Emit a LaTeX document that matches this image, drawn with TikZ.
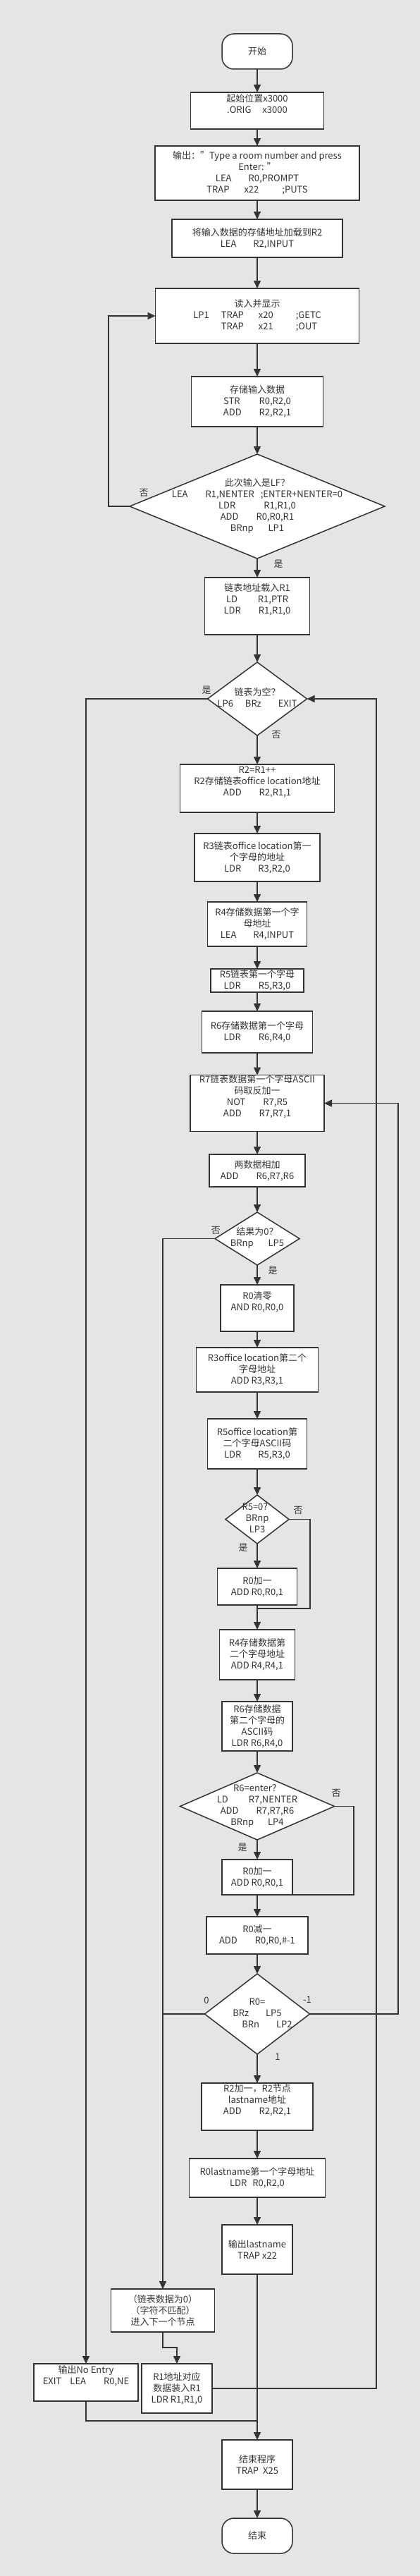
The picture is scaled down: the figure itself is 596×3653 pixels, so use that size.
\documentclass[tikz,border=0pt]{standalone}
\usepackage{fontspec}
\setmainfont{Noto Sans CJK SC}
\usetikzlibrary{shapes.geometric,arrows.meta}
\definecolor{bg}{HTML}{E5E5E5}
\definecolor{ln}{HTML}{333333}
\newcommand\gp[1]{\hspace{#1pt}}
\newcommand\dtext[1]{\smash{\makebox[0pt]{\raisebox{-3.2pt}{\begin{tabular}{@{}c@{}}#1\end{tabular}}}}}
\tikzset{
  box/.style={draw=ln, fill=white, line width=1.5pt, inner sep=0pt, outer sep=0pt,
    align=center, font=\fontsize{13}{16}\selectfont, text=ln},
  term/.style={box, rounded corners=17pt},
  dia/.style={box, shape=diamond},
  arr/.style={draw=ln, line width=1.5pt, -{Triangle[length=11pt,width=10pt]}},
  lnk/.style={draw=ln, line width=1.5pt},
  lab/.style={font=\fontsize{13}{16}\selectfont, text=ln, inner sep=0pt}
}
\begin{document}
\begin{tikzpicture}[x=1pt,y=-1pt]
\useasboundingbox (0,0) rectangle (596,3653);
\fill[bg] (0,0) rectangle (596,3653);

\node[term, minimum width=100pt, minimum height=50pt] (s) at (365,73) {开始};
\node[box, minimum width=189pt, minimum height=52pt] (b1) at (365,157) {起始位置x3000\\.ORIG\gp{16}x3000\\\strut};
\node[box, minimum width=290pt, minimum height=77pt] (b2) at (365,245.5) {输出："Type a room number and press\\Enter: "\\LEA\gp{24}R0,PROMPT\\TRAP\gp{21}x22\gp{33};PUTS};
\node[box, minimum width=242pt, minimum height=54pt] (b3) at (365,338) {将输入数据的存储地址加载到R2\\LEA\gp{24}R2,INPUT};
\node[box, minimum width=289pt, minimum height=78pt] (b4) at (365,448) {读入并显示\\\begin{tabular}[t]{@{}l@{}}LP1\gp{17}TRAP\gp{21}x20\gp{32};GETC\\\phantom{LP1}\gp{17}TRAP\gp{21}x21\gp{32};OUT\end{tabular}};
\node[box, minimum width=187pt, minimum height=71pt] (b5) at (365,569.5) {存储输入数据\\STR\gp{27}R0,R2,0\\ADD\gp{25}R2,R2,1};
\node[dia, minimum width=362pt, minimum height=148pt] (d1) at (365,718) {\dtext{此次输入是LF？\\LEA\gp{25}R1,NENTER\gp{9};ENTER+NENTER=0\\LDR\gp{40}R1,R1,0\\ADD\gp{25}R0,R0,R1\\BRnp\gp{21}LP1}};
\node[box, minimum width=149pt, minimum height=81pt] (b6) at (365,859.5) {链表地址载入R1\\LD\gp{29}R1,PTR\\LDR\gp{25}R1,R1,0\\\strut};
\node[dia, minimum width=141pt, minimum height=104pt] (d2) at (365,991) {\dtext{链表为空？\\LP6\gp{17}BRz\gp{24}EXIT}};
\node[box, minimum width=219pt, minimum height=68pt] (b7) at (365,1118) {R2=R1++\\R2存储链表office location地址\\ADD\gp{25}R2,R1,1\\\strut};
\node[box, minimum width=178pt, minimum height=68pt] (b8) at (365,1216) {R3链表office location第一\\个字母的地址\\LDR\gp{24}R3,R2,0};
\node[box, minimum width=141pt, minimum height=63pt] (b9) at (365,1310.5) {R4存储数据第一个字\\母地址\\LEA\gp{24}R4,INPUT};
\node[box, minimum width=132pt, minimum height=33pt] (b10) at (365,1390.5) {R5链表第一个字母\\LDR\gp{25}R5,R3,0};
\node[box, minimum width=157pt, minimum height=59pt] (b11) at (365,1463.5) {R6存储数据第一个字母\\LDR\gp{25}R6,R4,0};
\node[box, minimum width=190pt, minimum height=77pt] (b12) at (365,1564.5) {R7链表数据第一个字母ASCII\\码取反加一\\NOT\gp{25}R7,R5\\ADD\gp{25}R7,R7,1\\\strut};
\node[box, minimum width=136pt, minimum height=46pt] (b13) at (365,1660) {两数据相加\\ADD\gp{25}R6,R7,R6};
\node[dia, minimum width=120pt, minimum height=75pt] (d3) at (365,1756.5) {\dtext{结果为0？\\BRnp\gp{21}LP5}};
\node[box, minimum width=104pt, minimum height=66pt] (b14) at (365,1855) {R0清零\\AND R0,R0,0\\\strut};
\node[box, minimum width=173pt, minimum height=63pt] (b15) at (365,1942.5) {R3office location第二个\\字母地址\\ADD R3,R3,1};
\node[box, minimum width=141pt, minimum height=71pt] (b16) at (365,2047.5) {R5office location第\\二个字母ASCII码\\LDR\gp{24}R5,R3,0};
\node[dia, minimum width=90pt, minimum height=69pt] (d4) at (365,2154.5) {\dtext{R5=0？\\BRnp\\LP3}};
\node[box, minimum width=113pt, minimum height=52pt] (b17) at (365,2250) {R0加一\\ADD R0,R0,1};
\node[box, minimum width=107pt, minimum height=71pt] (b18) at (365,2346.5) {R4存储数据第\\二个字母地址\\ADD R4,R4,1};
\node[box, minimum width=100pt, minimum height=70pt] (b19) at (365,2448) {R6存储数据\\第二个字母的\\ASCII码\\LDR R6,R4,0};
\node[dia, minimum width=219pt, minimum height=95pt] (d5) at (365,2561.5) {\dtext{R6=enter？\\LD\gp{29}R7,NENTER\\ADD\gp{25}R7,R7,R6\\BRnp\gp{20}LP4}};
\node[box, minimum width=100pt, minimum height=50pt] (b20) at (365,2662) {R0加一\\ADD R0,R0,1};
\node[box, minimum width=144pt, minimum height=53pt] (b21) at (365,2744.5) {R0减一\\ADD\gp{25}R0,R0,\#-1};
\node[dia, minimum width=149pt, minimum height=114pt] (d6) at (365,2856) {\dtext{R0=\\BRz\gp{24}LP5\\\hspace*{28pt}BRn\gp{24}LP2}};
\node[box, minimum width=158pt, minimum height=67pt] (b22) at (365,2987.5) {R2加一，R2节点\\lastname地址\\ADD\gp{25}R2,R2,1\\\strut};
\node[box, minimum width=193pt, minimum height=55pt] (b23) at (365,3088.5) {R0lastname第一个字母地址\\LDR\gp{8}R0,R2,0};
\node[box, minimum width=100pt, minimum height=70pt] (b24) at (365,3190) {输出lastname\\TRAP x22};
\node[box, minimum width=147pt, minimum height=61pt] (b25) at (231,3276.5) {（链表数据为0）\\（字符不匹配）\\进入下一个节点};
\node[box, minimum width=148pt, minimum height=53pt] (ne) at (122,3378.5) {输出No Entry\\EXIT\gp{12}LEA\gp{25}R0,NE\\\strut};
\node[box, minimum width=100pt, minimum height=70pt] (b26) at (251,3387) {R1地址对应\\数据装入R1\\LDR R1,R1,0};
\node[box, minimum width=100pt, minimum height=70pt] (b27) at (365,3495) {结束程序\\TRAP\gp{6}X25};
\node[term, minimum width=100pt, minimum height=50pt] (e) at (365,3596) {结束};

% straight arrows down the main column
\draw[arr] (s.south) -- (b1.north);
\draw[arr] (b1.south) -- (b2.north);
\draw[arr] (b2.south) -- (b3.north);
\draw[arr] (b3.south) -- (b4.north);
\draw[arr] (b4.south) -- (b5.north);
\draw[arr] (b5.south) -- (d1.north);
\draw[arr] (d1.south) -- (b6.north);
\draw[arr] (b6.south) -- (d2.north);
\draw[arr] (d2.south) -- (b7.north);
\draw[arr] (b7.south) -- (b8.north);
\draw[arr] (b8.south) -- (b9.north);
\draw[arr] (b9.south) -- (b10.north);
\draw[arr] (b10.south) -- (b11.north);
\draw[arr] (b11.south) -- (b12.north);
\draw[arr] (b12.south) -- (b13.north);
\draw[arr] (b13.south) -- (d3.north);
\draw[arr] (d3.south) -- (b14.north);
\draw[arr] (b14.south) -- (b15.north);
\draw[arr] (b15.south) -- (b16.north);
\draw[arr] (b16.south) -- (d4.north);
\draw[arr] (d4.south) -- (b17.north);
\draw[arr] (b17.south) -- (b18.north);
\draw[arr] (b18.south) -- (b19.north);
\draw[arr] (b19.south) -- (d5.north);
\draw[arr] (d5.south) -- (b20.north);
\draw[arr] (b20.south) -- (b21.north);
\draw[arr] (b21.south) -- (d6.north);
\draw[arr] (d6.south) -- (b22.north);
\draw[arr] (b22.south) -- (b23.north);
\draw[arr] (b23.south) -- (b24.north);
\draw[arr] (b24.south) -- (b27.north);
\draw[arr] (b27.south) -- (e.north);

% loops and branches
\coordinate (j1) at (154,718);
\draw[arr] (d1.west) -- (j1) |- (b4.west);
\draw[arr] (d2.west) -| (ne.north);
\draw[arr] (d3.west) -| (b25.north);
\coordinate (j4) at (440,2281);
\draw[lnk] (d4.east) -| (j4) -- (b17.south |- j4);
\coordinate (j5) at (502,2687);
\draw[lnk] (d5.east) -| (j5) -- (b20.south east);
\draw[lnk] (d6.west) -- (d6.west -| b25.north);
\coordinate (j6) at (565,2856);
\draw[arr] (d6.east) -- (j6) |- (b12.east);
\coordinate (j7) at (231,3329);
\draw[arr] (b25.south) -- (j7) -| (b26.north);
\coordinate (j8) at (534,3387);
\draw[arr] (b26.east) -- (j8) |- (d2.east);
\coordinate (j9) at (365,3433);
\draw[lnk] (ne.south) |- (j9);

% branch labels
\node[lab] (l1) at (204,699) {否};
\node[lab] (l2) at (395,800) {是};
\node[lab] (l3) at (293,979) {是};
\node[lab] (l4) at (392,1042) {否};
\node[lab] (l5) at (306,1745) {否};
\node[lab] (l6) at (387,1802) {是};
\node[lab] (l7) at (423,2142) {否};
\node[lab] (l8) at (345,2195) {是};
\node[lab] (l9) at (477,2543) {否};
\node[lab] (l10) at (344,2620) {是};
\node[lab] (l11) at (293,2837) {0};
\node[lab] (l12) at (436,2836) {-1};
\node[lab] (l13) at (394,2917) {1};
\end{tikzpicture}
\end{document}
